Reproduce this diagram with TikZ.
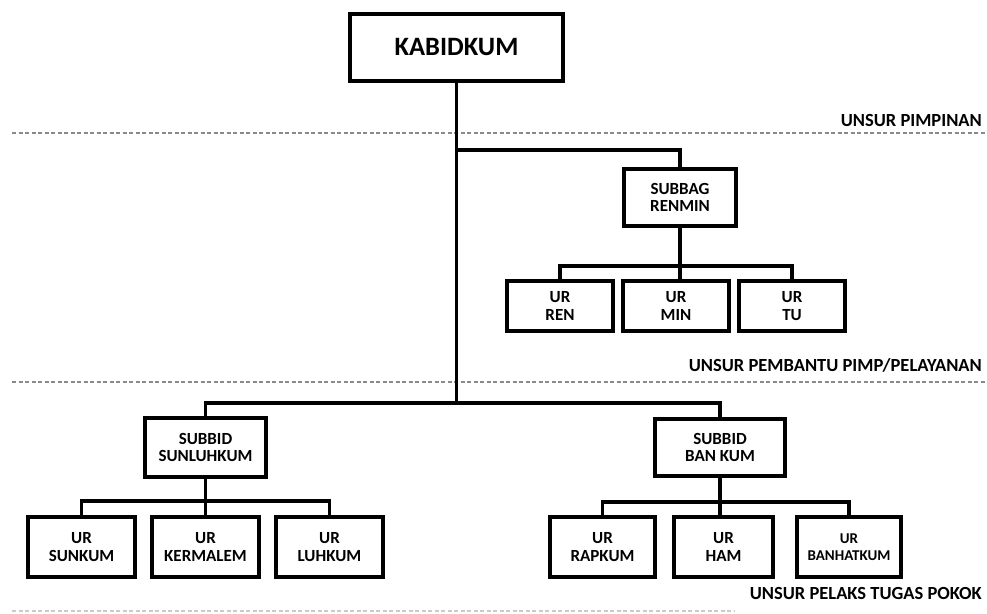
\documentclass[tikz,border=0pt]{standalone}
\usepackage{fontspec}
\setmainfont{Carlito}
\usepackage{xcolor}
\definecolor{dgray}{HTML}{8A8A8A}
\usepackage{tikz}
\usetikzlibrary{positioning,calc}
\begin{document}
\begin{tikzpicture}[x=1pt,y=-1pt,
  unit/.style={rectangle,draw=black,line width=4pt,fill=white,align=center,
               inner sep=0pt,font=\fontsize{17}{17.5}\selectfont\bfseries},
  conn/.style={line width=3.2pt,line cap=rect},
  sep/.style={dgray,line width=1.4pt,dash pattern=on 4pt off 2.5pt},
  lab/.style={anchor=east,inner sep=0pt,font=\fontsize{18.5}{20}\selectfont\bfseries}]
\useasboundingbox (0,0) rectangle (987,613);
\node[unit,minimum width=213pt,minimum height=67pt,font=\fontsize{26.5}{28}\selectfont\bfseries] (kabid) at (456.5,47.5) {KABIDKUM};
\node[unit,minimum width=112pt,minimum height=57pt] (renmin) at (680,197.5) {SUBBAG\\RENMIN};
\node[unit,minimum width=106pt,minimum height=50pt] (ren) at (560,306) {UR\\REN};
\node[unit,minimum width=106pt,minimum height=50pt] (min) at (676,306) {UR\\MIN};
\node[unit,minimum width=106pt,minimum height=50pt] (tu) at (792,306) {UR\\TU};
\node[unit,minimum width=121pt,minimum height=59pt] (sunluh) at (205.5,447.5) {SUBBID\\SUNLUHKUM};
\node[unit,minimum width=130pt,minimum height=57pt] (bankum) at (720,447.5) {SUBBID\\BAN KUM};
\node[unit,minimum width=107pt,minimum height=60pt] (sunkum) at (81.5,547) {UR\\SUNKUM};
\node[unit,minimum width=107pt,minimum height=60pt] (kermalem) at (205.5,547) {UR\\KERMALEM};
\node[unit,minimum width=107pt,minimum height=60pt] (luhkum) at (329.5,547) {UR\\LUHKUM};
\node[unit,minimum width=105pt,minimum height=60pt] (rapkum) at (602.5,547) {UR\\RAPKUM};
\node[unit,minimum width=99pt,minimum height=60pt] (ham) at (723.5,547) {UR\\HAM};
\node[unit,minimum width=104pt,minimum height=60pt,font=\fontsize{15}{17.5}\selectfont\bfseries] (banhat) at (849,547) {UR\\BANHATKUM};
\coordinate (jt) at (456.5,150);
\coordinate (split) at (456.5,403);
\draw[sep] (12,133) -- (987,133);
\draw[sep] (12,382) -- (987,382);
\draw[sep,dgray!45] (12,611) -- (735,611);
\node[lab] (pimpinan) at (982,121) {UNSUR PIMPINAN};
\node[lab] (pembantu) at (982,365) {UNSUR PEMBANTU PIMP/PELAYANAN};
\node[lab] (pelaks) at (982,593) {UNSUR PELAKS TUGAS POKOK};
\draw[conn] (kabid.south) -- (split);
\draw[conn] (jt) -| (renmin.north);
\draw[conn] (renmin.south) -- (renmin.south |- min.north);
\draw[conn] (ren.north) -- ++(0,-13) -| (tu.north);
\draw[conn] (split) -| (sunluh.north);
\draw[conn] (split) -| (bankum.north);
\draw[conn] (sunluh.south) -- (kermalem.north);
\draw[conn] (sunkum.north) -- ++(0,-14) -| (luhkum.north);
\draw[conn] (bankum.south) -- (bankum.south |- ham.north);
\draw[conn] (rapkum.north) -- ++(0,-13) -| (banhat.north);
\end{tikzpicture}
\end{document}
